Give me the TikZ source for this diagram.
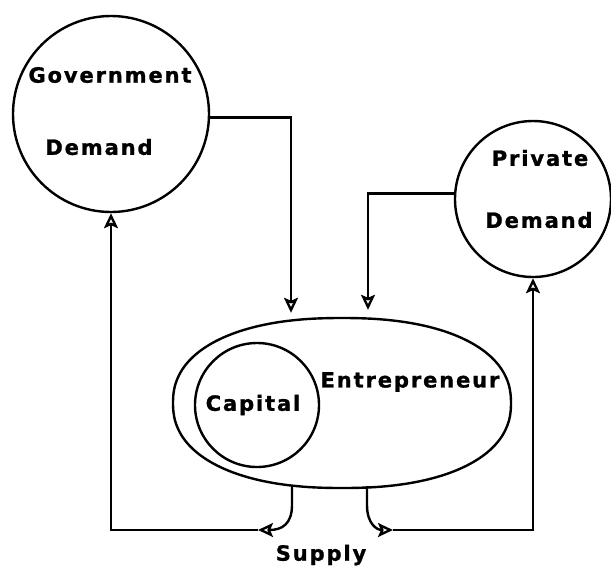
\documentclass[tikz,border=0pt]{standalone}
\usepackage{fontspec}
\setmainfont{DejaVu Sans}[LetterSpace=9, BoldFeatures={FakeBold=1.2}]
\usetikzlibrary{shapes.geometric,arrows.meta,calc}
\tikzset{
  bub/.style={draw, circle, line width=2.4pt, inner sep=0pt},
  lbl/.style={font=\fontsize{21}{23}\selectfont\bfseries, inner sep=0pt, anchor=center},
  arr/.style={line width=2.4pt, -{Stealth[open,length=15pt,width=14pt,inset=3pt,line width=2.4pt]}},
}
\begin{document}
\begin{tikzpicture}[x=1pt,y=-1pt]
\useasboundingbox (0,0) rectangle (611,566);
% circles
\node[bub, minimum size=196pt] (gov) at (111,114) {};
\node[bub, minimum size=156pt] (priv) at (533,199) {};
\node[ellipse, minimum width=338pt, minimum height=170pt, inner sep=0pt] (ent) at (342,403) {};
\draw[line width=2.4pt] plot[domain=1.8:358.2, samples=100, smooth cycle]
  ({342+169*((cos(\x)<0)?-1:1)*abs(cos(\x))^0.88}, {403-85*((sin(\x)<0)?-1:1)*abs(sin(\x))^0.88});
\node[bub, minimum size=124pt] (cap) at (257,405) {};
% labels
\node[lbl] (t1) at (110,75) {Government};
\node[lbl] (t2) at (99,147) {Demand};
\node[lbl] (t3) at (540,158) {Private};
\node[lbl] (t4) at (539,220) {Demand};
\node[lbl] (t5) at (253,405) {Capital};
\node[lbl] (t6) at (410,382) {Entrepreneur};
\node[lbl] (t7) at (321,555) {Supply};
% demand arrows into entrepreneur
\draw[arr] (gov.-2) -| ([xshift=-51pt,yshift=5pt]ent.north);
\draw[arr] (priv.176) -| ([xshift=26pt,yshift=8pt]ent.north);
% supply arrows
\coordinate (sL) at (258,530);
\coordinate (sR) at (393,530);
\draw[arr] ([xshift=-50pt,yshift=2pt]ent.south) -- (292,505) .. controls (292,524) and (282,530) .. (sL);
\draw[arr] (sL) -| (gov.south);
\draw[arr] ([xshift=25pt,yshift=2pt]ent.south) -- (367,505) .. controls (367,524) and (377,530) .. (sR);
\draw[arr] (sR) -| (priv.south);
\end{tikzpicture}
\end{document}
